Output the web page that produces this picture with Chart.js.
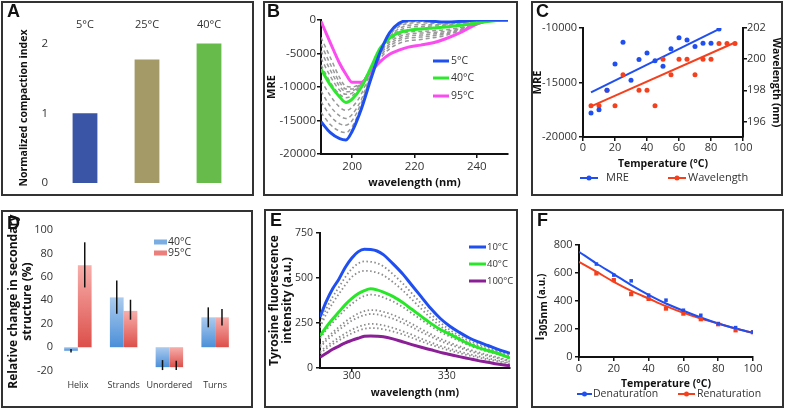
<!DOCTYPE html>
<html>
<head>
<meta charset="utf-8">
<script src="https://cdn.jsdelivr.net/npm/chart.js@4"></script>
<style>
body { margin:0; background:#fff; width:787px; height:410px; position:relative; overflow:hidden; }
.panel { position:absolute; box-sizing:border-box; border:2px solid #333; }
canvas { position:absolute; }
.tag { position:absolute; font:bold 18px "Liberation Sans", Arial, sans-serif; line-height:18px; color:#111; }
</style>
</head>
<body>
<div class="panel" style="left:1px;top:1px;width:253px;height:195px"></div>
<div class="panel" style="left:263px;top:1px;width:255px;height:195px"></div>
<div class="panel" style="left:531px;top:1px;width:252px;height:195px"></div>
<div class="panel" style="left:1px;top:210px;width:252px;height:198px"></div>
<div class="panel" style="left:264px;top:209px;width:254px;height:199px"></div>
<div class="panel" style="left:531px;top:209px;width:253px;height:199px"></div>

<canvas id="cA" width="253" height="195" style="left:1px;top:1px"></canvas>
<canvas id="cB" width="255" height="195" style="left:263px;top:1px"></canvas>
<canvas id="cC" width="252" height="195" style="left:531px;top:1px"></canvas>
<canvas id="cD" width="252" height="198" style="left:1px;top:210px"></canvas>
<canvas id="cE" width="254" height="199" style="left:264px;top:209px"></canvas>
<canvas id="cF" width="253" height="199" style="left:531px;top:209px"></canvas>

<div class="tag" style="left:7px;top:2px">A</div>
<div class="tag" style="left:267px;top:2px">B</div>
<div class="tag" style="left:536px;top:2px">C</div>
<div class="tag" style="left:7px;top:214px">D</div>
<div class="tag" style="left:270px;top:211px">E</div>
<div class="tag" style="left:537px;top:211px">F</div>

<script>
// ---- A: compaction index
const compLabels = ['5°C', '25°C', '40°C'];
const compIndex = [1.0, 1.77, 2.0];
const compTicks = [0, 1, 2];

// ---- B: CD spectra (MRE vs wavelength)
const cdWave = [190, 193, 196, 198, 200, 203, 206, 209, 212, 215, 218, 222, 226, 230, 235, 240, 245, 250];
const cdWaveTicks = [200, 220, 240];
const cdMreTicks = [-20000, -15000, -10000, -5000, 0];
const cd5  = [-15200, -16800, -17700, -17900, -16600, -13200, -8800, -4800, -1900, -500, -50, 0, -200, -300, -200, 0, 0, 0];
const cd40 = [-7300, -9700, -11500, -12300, -11800, -10000, -7100, -4200, -2700, -1900, -1550, -1350, -1200, -1050, -800, -450, -150, 0];
const cd95 = [-200, -3400, -6500, -8100, -9300, -9300, -7700, -6200, -5100, -4500, -4050, -3750, -3400, -2800, -1800, -600, -50, 0];
// dashed intermediate temperatures
const cd10 = [-13800, -15600, -16600, -16800, -15900, -12800, -8600, -4800, -2100, -800, -300, -200, -300, -400, -300, -100, 0, 0];
const cd15 = [-12200, -14300, -15500, -15700, -15000, -12300, -8300, -4700, -2300, -1000, -500, -400, -500, -600, -400, -200, 0, 0];
const cd20 = [-10600, -12900, -14300, -14700, -14100, -11800, -8000, -4600, -2500, -1300, -800, -700, -700, -700, -500, -200, -50, 0];
const cd30 = [-9000, -11300, -13000, -13500, -13000, -11000, -7600, -4500, -2600, -1600, -1100, -1000, -900, -850, -650, -300, -80, 0];
const cd50 = [-6700, -9300, -11100, -11600, -11300, -9800, -7200, -4600, -3000, -2200, -1800, -1700, -1600, -1450, -1100, -500, -100, 0];
const cd60 = [-5700, -8400, -10500, -11100, -10900, -9600, -7200, -4800, -3300, -2500, -2100, -1950, -1850, -1700, -1250, -550, -100, 0];
const cd70 = [-4600, -7500, -9900, -10700, -10600, -9500, -7300, -5100, -3600, -2800, -2400, -2250, -2100, -1900, -1350, -550, -100, 0];
const cd80 = [-3600, -6600, -9300, -10300, -10300, -9400, -7400, -5400, -3900, -3100, -2700, -2550, -2350, -2100, -1450, -550, -100, 0];
const cd90 = [-2600, -5600, -8600, -9900, -10000, -9300, -7400, -5700, -4300, -3500, -3100, -2900, -2650, -2300, -1500, -550, -80, 0];

// ---- C: MRE and minimum wavelength vs temperature
const mreTemps = [5, 10, 15, 20, 25, 30, 35, 40, 45, 50, 55, 60, 65, 70, 75, 80, 85];
const mreVals = [-17800, -17500, -15700, -13300, -11300, -14800, -12900, -12300, -13000, -13500, -11900, -10900, -11100, -11700, -11400, -11400, -10100];
const wlTemps = [5, 10, 15, 20, 25, 35, 40, 45, 50, 55, 60, 65, 70, 75, 80, 85, 90, 95];
const wlVals = [197, 197, 198, 197, 199, 198, 198, 197, 200, 199, 200, 200, 199, 200, 200, 201, 201, 201];
const mreFitT = [5, 85];
const mreFit = [-15900, -10100];
const wlFitT = [5, 95];
const wlFit = [196.97, 201.07];
const wlTicks = [196, 198, 200, 202];

// ---- D: secondary structure change
const structLabels = ['Helix', 'Strands', 'Unordered', 'Turns'];
const s40 = [-3, 42.5, -17, 25.5];
const s40Lo = [-4.5, 28.5, -19.5, 17];
const s40Hi = [-1.5, 57, -11, 34];
const s95 = [70, 31, -17, 25.5];
const s95Lo = [51, 23.5, -19.5, 18.5];
const s95Hi = [89.5, 40.5, -11.5, 32.5];
const structTicks = [-20, 0, 20, 40, 60, 80, 100];

// ---- E: tyrosine fluorescence spectra
const flWave = [290, 292, 294, 296, 298, 300, 302, 304, 306, 308, 310, 313, 316, 319, 322, 325, 328, 331, 334, 337, 340, 343, 346, 350];
const flWaveTicks = [300, 330];
const fl10  = [283, 370, 440, 495, 560, 610, 645, 660, 658, 650, 630, 580, 525, 460, 395, 330, 275, 232, 198, 168, 145, 125, 105, 82];
const fl40  = [178, 228, 272, 312, 352, 385, 412, 430, 440, 434, 422, 398, 365, 326, 287, 248, 214, 188, 160, 134, 113, 97, 82, 55];
const fl100 = [60, 82, 104, 122, 140, 153, 165, 176, 178, 177, 174, 162, 146, 130, 115, 101, 87, 75, 63, 52, 41, 32, 22, 13];
const fl20 = [250, 330, 395, 450, 505, 550, 580, 592, 590, 582, 565, 522, 472, 415, 357, 300, 252, 212, 180, 153, 132, 114, 96, 74];
const fl30 = [225, 300, 360, 412, 462, 505, 530, 540, 538, 530, 515, 478, 433, 381, 328, 277, 233, 198, 168, 142, 122, 105, 89, 68];
const fl50 = [165, 212, 252, 290, 325, 356, 382, 400, 408, 404, 392, 370, 340, 304, 268, 232, 200, 175, 150, 126, 107, 91, 77, 52];
const fl60 = [125, 165, 198, 228, 257, 282, 302, 316, 322, 320, 312, 295, 272, 245, 216, 188, 162, 141, 121, 103, 87, 73, 60, 40];
const fl70 = [115, 152, 183, 212, 238, 262, 280, 294, 300, 298, 290, 274, 252, 227, 200, 174, 150, 130, 112, 95, 80, 67, 55, 36];
const fl80 = [90, 120, 146, 170, 192, 212, 228, 240, 245, 243, 237, 223, 205, 185, 163, 142, 123, 107, 92, 78, 65, 54, 43, 28];
const fl90 = [80, 108, 132, 154, 174, 192, 207, 218, 222, 221, 215, 203, 187, 168, 148, 129, 112, 97, 83, 70, 58, 48, 38, 24];

// ---- F: intensity at 305 nm vs temperature
const fTemps = [10, 20, 30, 40, 50, 60, 70, 80, 90, 100];
const denat = [664, 585, 544, 442, 406, 334, 298, 239, 210, 179];
const renat = [597, 549, 449, 415, 346, 310, 270, 234, 191, 177];
const fitTemps = [0, 10, 20, 30, 40, 50, 60, 70, 80, 90, 100];
const denatFit = [752, 668, 592, 513, 444, 382, 330, 282, 239, 203, 172];
const renatFit = [680, 609, 537, 473, 418, 363, 315, 275, 239, 203, 172];


Chart.defaults.font.family = '"Open Sans", sans-serif';
Chart.defaults.color = '#333';
Chart.defaults.animation = false;
Chart.defaults.responsive = false;
Chart.defaults.plugins.legend.display = false;
Chart.defaults.plugins.tooltip.enabled = false;

const BLUE = '#1f4ff0';
const RED = '#f5401e';

function pts(xs, ys) {
	return xs.map(function(x, i) { return { x: x, y: ys[i] }; });
}

function fixWidth(w) { return function(scale) { scale.width = w; }; }
function fixHeight(h) { return function(scale) { scale.height = h; }; }
function tickAt(values) {
	return function(scale) { scale.ticks = values.map(function(v) { return { value: v }; }); };
}
function plain(v) { return String(v); }

// axis with a black line and short outward ticks
function frame(o) {
	return Object.assign({
		type: 'linear',
		grid: { drawOnChartArea: false, drawTicks: true, tickLength: 4, color: '#111', lineWidth: 1.5 },
		border: { display: true, color: '#111', width: 2 }
	}, o);
}

function axisTitle(text, size, pad) {
	return { display: true, text: text, color: '#111', font: { size: size, weight: 'bold' }, padding: pad };
}

// small legends drawn at fixed spots inside each panel
const panelLegend = {
	id: 'panelLegend',
	afterDraw(chart, args, opts) {
		if (!opts.items) return;
		const ctx = chart.ctx;
		ctx.save();
		ctx.font = opts.font;
		ctx.textBaseline = 'middle';
		opts.items.forEach(function(it) {
			ctx.strokeStyle = it.color;
			ctx.fillStyle = it.color;
			if (it.kind === 'box') {
				ctx.fillRect(it.x0, it.y - 2.5, it.x1 - it.x0, 5);
			} else {
				ctx.lineWidth = it.lw || 3;
				ctx.beginPath();
				ctx.moveTo(it.x0, it.y);
				ctx.lineTo(it.x1, it.y);
				ctx.stroke();
				if (it.kind === 'linedot') {
					ctx.beginPath();
					ctx.arc((it.x0 + it.x1) / 2, it.y, 2.5, 0, Math.PI * 2);
					ctx.fill();
				}
			}
			ctx.fillStyle = '#333';
			ctx.fillText(it.text, it.tx, it.y);
		});
		ctx.restore();
	}
};

const errorBars = {
	id: 'errorBars',
	afterDatasetsDraw(chart, args, opts) {
		if (!opts.sets) return;
		const ctx = chart.ctx;
		const y = chart.scales.y;
		ctx.save();
		ctx.strokeStyle = '#111';
		ctx.lineWidth = 1.5;
		opts.sets.forEach(function(s, di) {
			chart.getDatasetMeta(di).data.forEach(function(bar, i) {
				ctx.beginPath();
				ctx.moveTo(bar.x, y.getPixelForValue(s.lo[i]));
				ctx.lineTo(bar.x, y.getPixelForValue(s.hi[i]));
				ctx.stroke();
			});
		});
		ctx.restore();
	}
};

Chart.register(panelLegend, errorBars);

// ---------------- A
new Chart(document.getElementById('cA'), {
	type: 'bar',
	data: {
		labels: compLabels,
		datasets: [{
			data: compIndex,
			backgroundColor: ['#3a55a6', '#a39a67', '#66bb4a'],
			categoryPercentage: 1,
			barPercentage: 0.4
		}]
	},
	options: {
		layout: { padding: { left: 0, top: 0, right: 14, bottom: 13 } },
		scales: {
			x: {
				position: 'top',
				grid: { display: false, drawTicks: false },
				border: { display: false },
				ticks: { padding: 2, font: { size: 11 } },
				afterFit: fixHeight(32)
			},
			y: {
				min: 0, max: 2.15,
				grid: { display: false, drawTicks: false },
				border: { display: false },
				ticks: { padding: 6, font: { size: 11.5 } },
				afterBuildTicks: tickAt(compTicks),
				title: axisTitle('Normalized compaction index', 10.5, { top: 17, bottom: 0 }),
				afterFit: fixWidth(53)
			}
		}
	}
});

// ---------------- B
function cdLine(vals, color) {
	return { data: pts(cdWave, vals), borderColor: color, borderWidth: 3, pointRadius: 0, cubicInterpolationMode: 'monotone' };
}
function cdDash(vals) {
	return { data: pts(cdWave, vals), borderColor: '#999', borderWidth: 1.5, borderDash: [4, 3], pointRadius: 0, cubicInterpolationMode: 'monotone' };
}

new Chart(document.getElementById('cB'), {
	type: 'line',
	data: {
		datasets: [
			cdLine(cd5, '#1e4ff0'), cdLine(cd40, '#2ee82e'), cdLine(cd95, '#fb4cf0'),
			cdDash(cd10), cdDash(cd15), cdDash(cd20), cdDash(cd30),
			cdDash(cd50), cdDash(cd60), cdDash(cd70), cdDash(cd80), cdDash(cd90)
		]
	},
	options: {
		layout: { padding: { left: 0, top: 19, right: 10, bottom: 6 } },
		plugins: {
			panelLegend: {
				font: '10.5px "Open Sans"',
				items: [
					{ kind: 'line', x0: 170, x1: 186, y: 60, color: '#1e4ff0', text: '5°C', tx: 188 },
					{ kind: 'line', x0: 170, x1: 186, y: 77, color: '#2ee82e', text: '40°C', tx: 188 },
					{ kind: 'line', x0: 170, x1: 186, y: 95, color: '#fb4cf0', text: '95°C', tx: 188 }
				]
			}
		},
		scales: {
			x: frame({
				min: 190, max: 250,
				ticks: { padding: 2, font: { size: 11.5 }, callback: plain },
				afterBuildTicks: tickAt(cdWaveTicks),
				title: axisTitle('wavelength (nm)', 11, { top: 0, bottom: 1 }),
				afterFit: fixHeight(36)
			}),
			y: frame({
				min: -20000, max: 0,
				ticks: { padding: 1, font: { size: 11.5 }, callback: plain },
				afterBuildTicks: tickAt(cdMreTicks),
				title: axisTitle('MRE', 11, { top: 2, bottom: 0 }),
				afterFit: fixWidth(58)
			})
		}
	}
});

// ---------------- C
new Chart(document.getElementById('cC'), {
	type: 'line',
	data: {
		datasets: [
			{ data: pts(mreTemps, mreVals), yAxisID: 'y', showLine: false, pointRadius: 2.5, pointBorderWidth: 0, backgroundColor: BLUE, borderColor: BLUE },
			{ data: pts(wlTemps, wlVals), yAxisID: 'y2', showLine: false, pointRadius: 2.5, pointBorderWidth: 0, backgroundColor: RED, borderColor: RED },
			{ data: pts(mreFitT, mreFit), yAxisID: 'y', borderColor: BLUE, borderWidth: 2, pointRadius: 0 },
			{ data: pts(wlFitT, wlFit), yAxisID: 'y2', borderColor: RED, borderWidth: 2, pointRadius: 0 }
		]
	},
	options: {
		layout: { padding: { left: 0, top: 27, right: 0, bottom: 23 } },
		plugins: {
			panelLegend: {
				font: '11px "Open Sans"',
				items: [
					{ kind: 'linedot', x0: 49, x1: 67, y: 177, lw: 2, color: BLUE, text: 'MRE', tx: 75 },
					{ kind: 'linedot', x0: 137, x1: 155, y: 177, lw: 2, color: RED, text: 'Wavelength', tx: 157 }
				]
			}
		},
		scales: {
			x: frame({
				min: 0, max: 100,
				ticks: { stepSize: 20, padding: 0, font: { size: 11 } },
				title: axisTitle('Temperature (°C)', 10.5, { top: 0, bottom: 3 }),
				afterFit: fixHeight(36)
			}),
			y: frame({
				position: 'left',
				min: -20000, max: -10000,
				ticks: { stepSize: 5000, padding: 2, font: { size: 11 }, callback: plain },
				title: axisTitle('MRE', 11, { top: 0, bottom: 0 }),
				afterFit: fixWidth(52)
			}),
			y2: frame({
				position: 'right',
				min: 195, max: 202,
				ticks: { padding: 0, font: { size: 11 } },
				afterBuildTicks: tickAt(wlTicks),
				title: axisTitle('Wavelength (nm)', 10.5, { top: 1, bottom: 0 }),
				afterFit: fixWidth(40)
			})
		}
	}
});

// ---------------- D
function barGrad(light, dark) {
	return function(ctx) {
		const chart = ctx.chart;
		if (!chart.chartArea) return dark;
		const y = chart.scales.y;
		const p0 = y.getPixelForValue(0);
		const p1 = y.getPixelForValue(ctx.raw);
		const top = Math.min(p0, p1), bot = Math.max(p0, p1);
		if (bot - top < 1) return dark;
		const g = chart.ctx.createLinearGradient(0, top, 0, bot);
		g.addColorStop(0, light);
		g.addColorStop(1, dark);
		return g;
	};
}

new Chart(document.getElementById('cD'), {
	type: 'bar',
	data: {
		labels: structLabels,
		datasets: [
			{ data: s40, backgroundColor: barGrad('#abcbee', '#4b8fd8'), categoryPercentage: 0.6, barPercentage: 1 },
			{ data: s95, backgroundColor: barGrad('#f7aeab', '#dc4f4a'), categoryPercentage: 0.6, barPercentage: 1 }
		]
	},
	options: {
		layout: { padding: { left: 0, top: 20, right: 15, bottom: 5 } },
		plugins: {
			errorBars: { sets: [{ lo: s40Lo, hi: s40Hi }, { lo: s95Lo, hi: s95Hi }] },
			panelLegend: {
				font: '10.5px "Open Sans"',
				items: [
					{ kind: 'box', x0: 153, x1: 166, y: 32, color: '#7aaee3', text: '40°C', tx: 167 },
					{ kind: 'box', x0: 153, x1: 166, y: 43, color: '#ec7f7b', text: '95°C', tx: 167 }
				]
			}
		},
		scales: {
			x: {
				grid: { display: false, drawTicks: false },
				border: { display: false },
				ticks: { padding: 7, font: { size: 9 }, maxRotation: 0, minRotation: 0, autoSkip: false },
				afterFit: fixHeight(30)
			},
			y: {
				min: -22, max: 100,
				grid: { display: false, drawTicks: false },
				border: { display: false },
				ticks: { padding: 2, font: { size: 11 } },
				afterBuildTicks: tickAt(structTicks),
				title: axisTitle(['Relative change in secondary', 'structure (%)'], 12, { top: 5, bottom: 0 }),
				afterFit: fixWidth(54)
			}
		}
	}
});

// ---------------- E
function flLine(vals, color) {
	return { data: pts(flWave, vals), borderColor: color, borderWidth: 3, pointRadius: 0, cubicInterpolationMode: 'monotone' };
}
function flDot(vals) {
	return { data: pts(flWave, vals), borderColor: '#8c8c8c', borderWidth: 1.8, borderDash: [1.5, 2.5], pointRadius: 0, cubicInterpolationMode: 'monotone' };
}

new Chart(document.getElementById('cE'), {
	type: 'line',
	data: {
		datasets: [
			flLine(fl10, '#1f4ff0'), flLine(fl40, '#28e628'), flLine(fl100, '#8a1f96'),
			flDot(fl20), flDot(fl30), flDot(fl50), flDot(fl60), flDot(fl70), flDot(fl80), flDot(fl90)
		]
	},
	options: {
		layout: { padding: { left: 0, top: 24, right: 8, bottom: 5 } },
		plugins: {
			panelLegend: {
				font: '9.5px "Open Sans"',
				items: [
					{ kind: 'line', x0: 205, x1: 222, y: 38, color: '#1f4ff0', text: '10°C', tx: 223 },
					{ kind: 'line', x0: 205, x1: 222, y: 55, color: '#28e628', text: '40°C', tx: 223 },
					{ kind: 'line', x0: 205, x1: 222, y: 72, color: '#8a1f96', text: '100°C', tx: 223 }
				]
			}
		},
		scales: {
			x: frame({
				min: 290, max: 350,
				ticks: { padding: -2, font: { size: 10.5 } },
				afterBuildTicks: tickAt(flWaveTicks),
				title: axisTitle('wavelength (nm)', 10.5, { top: 0, bottom: 4 }),
				afterFit: fixHeight(35)
			}),
			y: frame({
				min: 0, max: 750,
				ticks: { stepSize: 250, padding: 3, font: { size: 10.5 } },
				title: Object.assign(axisTitle(['Tyrosine fluorescence', 'intensity (a.u.)'], 12, { top: 4, bottom: 0 }),
					{ font: { size: 12, weight: 'bold', lineHeight: 1.1 } }),
				afterFit: fixWidth(56)
			})
		}
	}
});

// ---------------- F
// y title with a subscript, drawn by hand
const fTitle = {
	id: 'fTitle',
	afterDraw(chart) {
		const c = chart.ctx;
		const parts = [
			['I', 'bold 12px "Open Sans"', 0],
			['305nm', 'bold 10.5px "Open Sans"', 3.5],
			[' (a.u.)', 'bold 10px "Open Sans"', 1]
		];
		c.save();
		c.translate(10, 98);
		c.rotate(-Math.PI / 2);
		c.fillStyle = '#111';
		c.textBaseline = 'middle';
		let total = 0;
		parts.forEach(function(p) { c.font = p[1]; total += c.measureText(p[0]).width; });
		let x = -total / 2;
		parts.forEach(function(p) {
			c.font = p[1];
			c.fillText(p[0], x, p[2]);
			x += c.measureText(p[0]).width;
		});
		c.restore();
	}
};

new Chart(document.getElementById('cF'), {
	type: 'line',
	data: {
		datasets: [
			{ data: pts(fTemps, denat), showLine: false, pointRadius: 2.5, pointStyle: 'rect', pointBorderWidth: 0, backgroundColor: BLUE, borderColor: BLUE },
			{ data: pts(fTemps, renat), showLine: false, pointRadius: 3, pointStyle: 'rect', pointBorderWidth: 0, backgroundColor: RED, borderColor: RED },
			{ data: pts(fitTemps, denatFit), borderColor: BLUE, borderWidth: 2, pointRadius: 0, cubicInterpolationMode: 'monotone' },
			{ data: pts(fitTemps, renatFit), borderColor: RED, borderWidth: 2, pointRadius: 0, cubicInterpolationMode: 'monotone' }
		]
	},
	plugins: [fTitle],
	options: {
		layout: { padding: { left: 0, top: 36, right: 31, bottom: 18 } },
		plugins: {
			panelLegend: {
				font: '10.5px "Open Sans"',
				items: [
					{ kind: 'linedot', x0: 46, x1: 61, y: 185, lw: 2, color: BLUE, text: 'Denaturation', tx: 62 },
					{ kind: 'linedot', x0: 147, x1: 164, y: 185, lw: 2, color: RED, text: 'Renaturation', tx: 166 }
				]
			}
		},
		scales: {
			x: frame({
				min: 0, max: 100,
				ticks: { stepSize: 20, padding: 1, font: { size: 11 } },
				title: axisTitle('Temperature (°C)', 10.5, { top: 0, bottom: 0 }),
				afterFit: fixHeight(33)
			}),
			y: frame({
				min: 0, max: 800,
				ticks: { stepSize: 200, padding: 2.5, font: { size: 11 } },
				afterFit: fixWidth(48)
			})
		}
	}
});
</script>
</body>
</html>
